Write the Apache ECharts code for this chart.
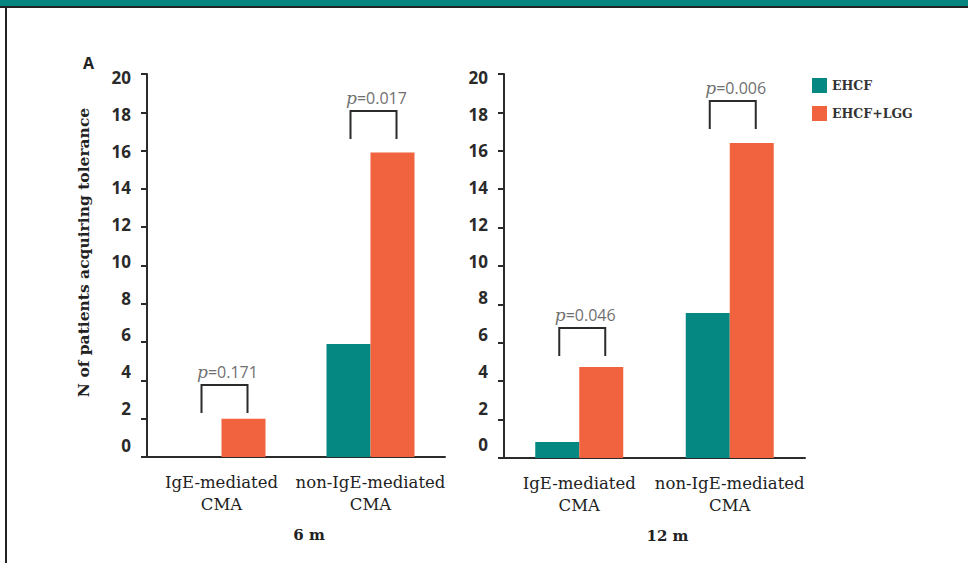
<!DOCTYPE html>
<html>
<head>
<meta charset="utf-8">
<title>Tolerance</title>
<script src="https://cdn.jsdelivr.net/npm/echarts@6/dist/echarts.min.js"></script>
<style>
html, body { margin: 0; padding: 0; background: #fff; }
#charts { width: 968px; height: 563px; }
</style>
</head>
<body>
<div id="charts"></div>
<script>
var categories = ['IgE-mediated\nCMA', 'non-IgE-mediated\nCMA'];
var yTicks = [0, 2, 4, 6, 8, 10, 12, 14, 16, 18, 20];
var ehcf6m = [0, 5.9];
var lgg6m = [2.0, 15.9];
var ehcf12m = [0.83, 7.55];
var lgg12m = [4.74, 16.4];
// [category index, bracket top, bracket leg bottom, p value]
var brackets6m = [[0, 3.76, 2.3, '0.171'], [1, 18.07, 16.61, '0.017']];
var brackets12m = [[0, 6.77, 5.31, '0.046'], [1, 18.59, 17.14, '0.006']];

var TEAL = '#068882';
var ORANGE = '#F1633F';
var DARK = '#2b2b2b';
var SERIF = '"DejaVu Serif", serif';
var SANS = '"Open Sans", sans-serif';

var charts = {
	bracket: function(params, api) {
		var top = api.coord([api.value(0), api.value(1)]);
		var bot = api.coord([api.value(0), api.value(2)]);
		var x0 = top[0] - 20, x1 = top[0] + 26;
		return {
			type: 'group',
			children: [{
				type: 'polyline',
				shape: { points: [[x0, bot[1]], [x0, top[1]], [x1, top[1]], [x1, bot[1]]] },
				style: { stroke: DARK, lineWidth: 2, fill: null }
			}, {
				type: 'text',
				x: (x0 + x1) / 2 + 3,
				y: top[1] - 13,
				style: {
					text: '{p|p}{v|=' + api.value(3) + '}',
					align: 'center',
					verticalAlign: 'middle',
					rich: {
						p: { fontFamily: SERIF, fontStyle: 'italic', fontSize: 17, fill: '#707070' },
						v: { fontFamily: SANS, fontSize: 16, fill: '#707070' }
					}
				}
			}]
		};
	},
	xAxis: function(grid, name) {
		return {
			type: 'category',
			gridIndex: grid,
			data: categories,
			name: name,
			nameLocation: 'middle',
			nameGap: 70,
			nameTextStyle: { fontFamily: SERIF, fontWeight: 'bold', fontSize: 15, color: '#222', padding: [0, 0, 0, 26] },
			axisLine: { lineStyle: { color: DARK, width: 2 } },
			axisTick: { length: 7, lineStyle: { color: DARK, width: 2 } },
			axisLabel: { interval: 0, fontFamily: SERIF, fontSize: 16.5, color: '#222', lineHeight: 22, margin: 14 }
		};
	},
	yAxes: function(grid, labelMin) {
		return [{
			type: 'value',
			gridIndex: grid,
			position: 'left',
			min: 0,
			max: 20,
			interval: 2,
			axisLine: { show: true, lineStyle: { color: DARK, width: 2 } },
			axisTick: { show: true, length: 6, lineStyle: { color: DARK, width: 2 } },
			axisLabel: { show: false },
			splitLine: { show: false }
		}, {
			// labels sit on their own scale, slightly tighter than the ticks
			type: 'value',
			gridIndex: grid,
			position: 'left',
			offset: 0,
			min: labelMin,
			max: 20.19,
			axisLine: { show: false },
			axisTick: { show: false },
			splitLine: { show: false },
			axisLabel: {
				customValues: yTicks,
				margin: 16,
				fontFamily: SANS,
				fontWeight: 'bold',
				fontSize: 17,
				color: '#2a2a2a'
			}
		}];
	},
	showCharts: function() {
		var myChart = echarts.init(document.getElementById('charts'), null, { renderer: 'svg' });
		var yLeft = charts.yAxes(0, -0.65);
		var yRight = charts.yAxes(1, -0.71);
		yLeft[0].name = 'N of patients acquiring tolerance';
		yLeft[0].nameLocation = 'middle';
		yLeft[0].nameGap = 56;
		yLeft[0].nameTextStyle = { fontFamily: SERIF, fontWeight: 'bold', fontSize: 15.5, color: '#222', padding: [0, 0, 0, 26] };
		var option = {
			animation: false,
			backgroundColor: '#fff',
			title: {
				text: 'A',
				left: 78,
				top: 50,
				textStyle: { fontFamily: SANS, fontWeight: 'bold', fontSize: 16, color: '#222' }
			},
			legend: {
				data: ['EHCF', 'EHCF+LGG'],
				orient: 'vertical',
				left: 807,
				top: 73,
				itemWidth: 15,
				itemHeight: 15,
				itemGap: 13,
				icon: 'rect',
				textStyle: { fontFamily: SERIF, fontWeight: 'bold', fontSize: 12.5, color: '#333' }
			},
			graphic: [
				{ type: 'rect', shape: { x: 0, y: 0, width: 968, height: 6 }, style: { fill: '#07857f' } },
				{ type: 'rect', shape: { x: 0, y: 6, width: 968, height: 2 }, style: { fill: '#222' } },
				{ type: 'rect', shape: { x: 5, y: 6, width: 2, height: 557 }, style: { fill: '#222' } }
			],
			grid: [
				{ left: 147, right: 523, top: 74, bottom: 106 },
				{ left: 504, right: 163, top: 74, bottom: 105 }
			],
			xAxis: [charts.xAxis(0, '6 m'), charts.xAxis(1, '12 m')],
			yAxis: yLeft.concat(yRight),
			series: [{
				name: 'EHCF', type: 'bar', xAxisIndex: 0, yAxisIndex: 0,
				barWidth: 44, barGap: 0, itemStyle: { color: TEAL }, data: ehcf6m
			}, {
				name: 'EHCF+LGG', type: 'bar', xAxisIndex: 0, yAxisIndex: 0,
				barWidth: 44, barGap: 0, itemStyle: { color: ORANGE }, data: lgg6m
			}, {
				name: 'EHCF', type: 'bar', xAxisIndex: 1, yAxisIndex: 2,
				barWidth: 44, barGap: 0, itemStyle: { color: TEAL }, data: ehcf12m
			}, {
				name: 'EHCF+LGG', type: 'bar', xAxisIndex: 1, yAxisIndex: 2,
				barWidth: 44, barGap: 0, itemStyle: { color: ORANGE }, data: lgg12m
			}, {
				type: 'custom', xAxisIndex: 0, yAxisIndex: 0, clip: false, silent: true,
				renderItem: charts.bracket, data: brackets6m
			}, {
				type: 'custom', xAxisIndex: 1, yAxisIndex: 2, clip: false, silent: true,
				renderItem: charts.bracket, data: brackets12m
			}]
		};
		myChart.setOption(option);
	}
};
charts.showCharts();
</script>
</body>
</html>
